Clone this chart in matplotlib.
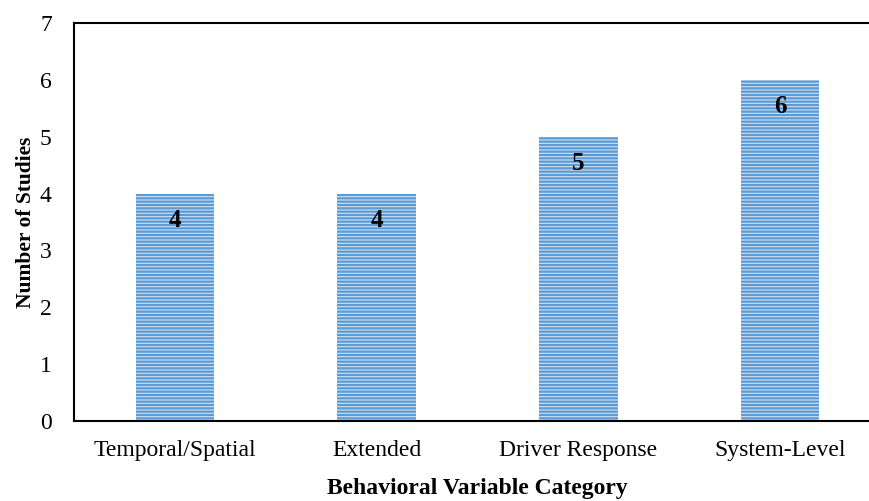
import matplotlib.pyplot as plt
import numpy as np

categories = ["Temporal/Spatial", "Extended", "Driver Response", "System-Level"]
counts = [4, 4, 5, 6]

plt.rcParams['font.family'] = ['Liberation Serif', 'DejaVu Serif']
plt.rcParams['hatch.linewidth'] = 1.6

fig = plt.figure(figsize=(8.7, 5.01), dpi=100)
ax = fig.add_axes([74 / 870, 80 / 501, 807 / 870, 398 / 501])

x = np.arange(len(categories))
bars = ax.bar(x, counts, width=0.39, color='#cfe1f3', edgecolor='#5b9bd5',
              hatch='-----', linewidth=0)

# value labels sit just inside the top of each bar
for xi, v in zip(x, counts):
    ax.text(xi, v - 0.47, str(v), ha='center', va='center',
            fontsize=18, fontweight='bold', color='black')

ax.set_xlim(-0.5, 3.5)
ax.set_ylim(0, 7)
ax.set_yticks(range(0, 8))
ax.set_xticks(x)
ax.set_xticklabels(categories)
ax.tick_params(axis='both', length=0, labelsize=17)
ax.tick_params(axis='x', pad=14)
ax.tick_params(axis='y', pad=16)

for s in ax.spines.values():
    s.set_linewidth(1.5)
    s.set_color('black')

ax.set_ylabel("Number of Studies", fontsize=15.5, fontweight='bold', labelpad=3)
ax.set_xlabel("Behavioral Variable Category", fontsize=17, fontweight='bold', labelpad=12)

fig.savefig("out.png", dpi=100)
